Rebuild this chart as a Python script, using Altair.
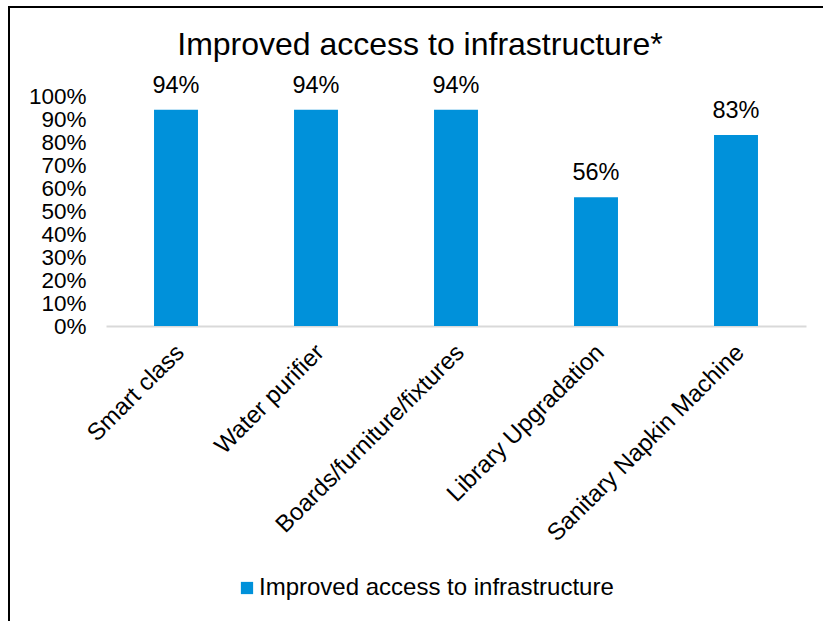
import altair as alt
import pandas as pd

categories = ["Smart class", "Water purifier", "Boards/furniture/fixtures",
              "Library Upgradation", "Sanitary Napkin Machine"]
values = [0.94, 0.94, 0.94, 0.56, 0.83]
series_name = "Improved access to infrastructure"
title_text = "Improved access to infrastructure*"
y_ticks = [0.0, 0.1, 0.2, 0.3, 0.4, 0.5, 0.6, 0.7, 0.8, 0.9, 1.0]

df = pd.DataFrame({"category": categories, "value": values, "series": series_name})

FONT = "Liberation Sans"
BLUE = "#0091DA"

x_enc = alt.X("category:N", sort=categories, title=None,
              scale=alt.Scale(paddingInner=0.686, paddingOuter=0.343),
              axis=alt.Axis(labelAngle=-45, labelFontSize=24, labelFont=FONT,
                            labelColor="#000000", ticks=False, domainColor="#D9D9D9",
                            domainWidth=2, labelPadding=14, labelOffset=-4,
                            labelLimit=400, grid=False))
y_enc = alt.Y("value:Q", title=None,
              scale=alt.Scale(domain=[0, 1]),
              axis=alt.Axis(format=".0%", values=y_ticks,
                            labelFontSize=22.5, labelFont=FONT, labelColor="#000000",
                            labelOverlap=False, labelFlush=False,
                            domain=False, ticks=False, grid=False, labelPadding=20))

bars = alt.Chart(df).mark_bar(color=BLUE).encode(
    x=x_enc, y=y_enc,
    color=alt.Color("series:N", scale=alt.Scale(range=[BLUE]),
                    legend=alt.Legend(title=None, orient="none", legendX=129, legendY=480,
                                      symbolType="square", symbolSize=150,
                                      labelFontSize=24, labelFont=FONT,
                                      labelColor="#000000", labelLimit=500,
                                      symbolStrokeWidth=0, labelOffset=0)),
)

labels = alt.Chart(df).mark_text(fontSize=23.5, font=FONT, color="#000000",
                                 baseline="alphabetic", dy=-17).encode(
    x=x_enc,
    y=y_enc,
    text=alt.Text("value:Q", format=".0%"),
)

# chart frame (left and top border lines)
frame_left = alt.Chart(df).mark_rule(color="#000000", strokeWidth=2).encode(
    x=alt.value(-97), y=alt.value(-89), y2=alt.value(600))
frame_top = alt.Chart(df).mark_rule(color="#000000", strokeWidth=2).encode(
    x=alt.value(-98), x2=alt.value(800), y=alt.value(-89))

chart = alt.layer(bars, labels, frame_left, frame_top).properties(
    width=700, height=230,
    background="white",
    title=alt.TitleParams(title_text, fontSize=32, font=FONT, fontWeight="normal",
                          color="#000000", anchor="middle", frame="group",
                          dx=-36, offset=-56),
    autosize=alt.AutoSizeParams(type="none"),
    padding={"left": 106, "top": 96, "right": 17, "bottom": 295},
).configure_view(stroke=None, strokeWidth=0)

chart.save("out.html", embed_options={"renderer": "svg", "actions": False})
